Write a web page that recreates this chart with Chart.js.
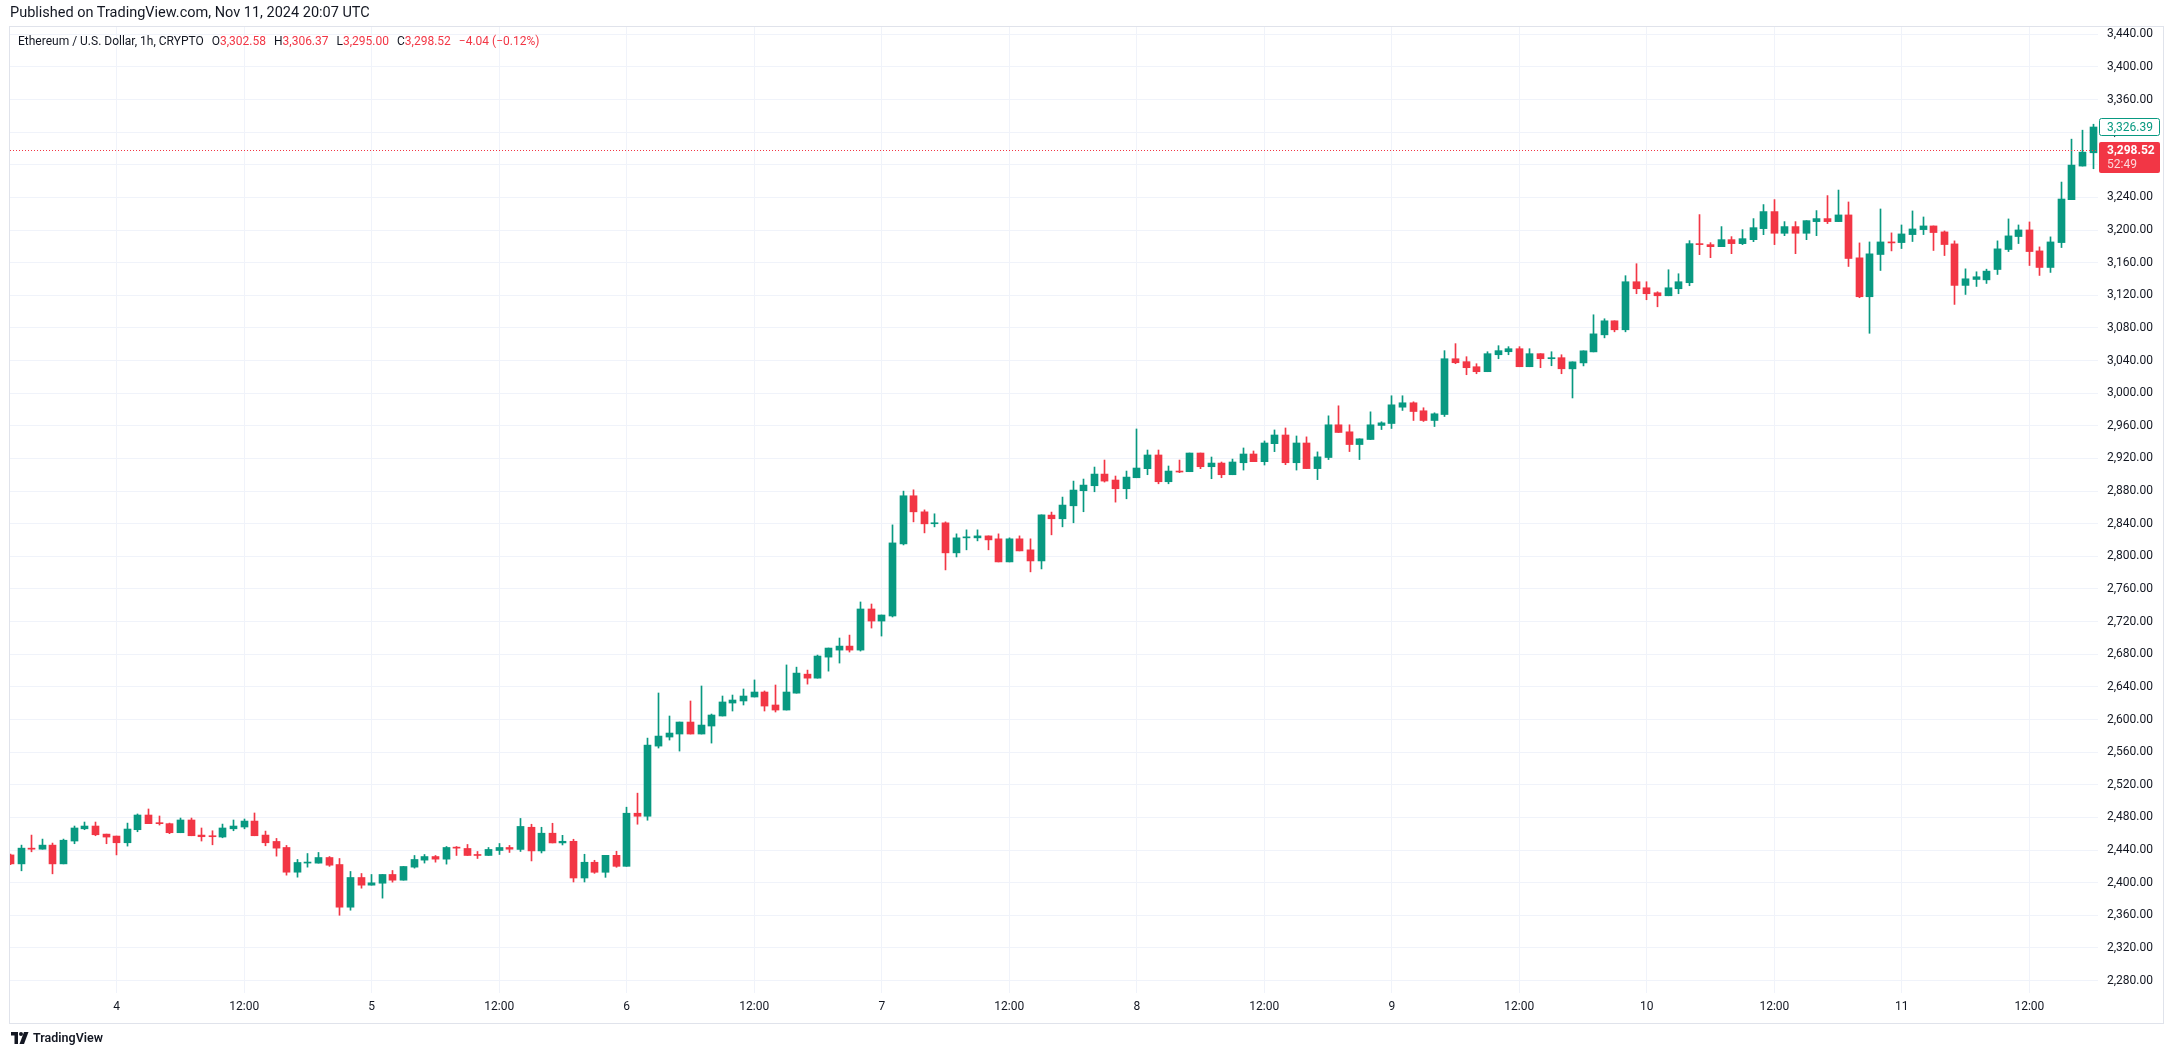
<!DOCTYPE html>
<html>
<head>
<meta charset="utf-8">
<script src="https://cdn.jsdelivr.net/npm/chart.js@4.4.1/dist/chart.umd.min.js"></script>
<style>
    body { margin: 0; background: #fff; font-family: Roboto, "Open Sans", sans-serif; color: #131722; }
    #wrap { position: relative; width: 2174px; height: 1057px; }
    #published { position: absolute; left: 10px; top: 4px; font-size: 14.5px; color: #131722; }
    #legend { position: absolute; left: 18px; top: 34px; font-size: 12px; color: #131722; white-space: pre; }
    #legend .v { color: #f23645; }
    #legend .g { margin-left: 8px; }
    #footer { position: absolute; left: 11px; top: 1030px; font-size: 12.5px; font-weight: 600; color: #131722; display: flex; align-items: center; }
    #footer svg { margin-right: 4px; }
</style>
</head>
<body>
<div id="wrap">
    <canvas id="chart" width="2174" height="1057"></canvas>
    <div id="published">Published on TradingView.com, Nov 11, 2024 20:07 UTC</div>
    <div id="legend">Ethereum / U.S. Dollar, 1h, CRYPTO<span class="g">O</span><span class="v">3,302.58</span><span class="g">H</span><span class="v">3,306.37</span><span class="g">L</span><span class="v">3,295.00</span><span class="g">C</span><span class="v">3,298.52</span><span class="g v">−4.04 (−0.12%)</span></div>
    <div id="footer">
        <svg width="18" height="12" viewBox="0 0 36 24"><path d="M0 0h14v24H7V7H0z" fill="#131722"/><circle cx="20" cy="4" r="4" fill="#131722"/><path d="M26 0h9l-9 24h-9z" fill="#131722"/></svg>TradingView
    </div>
</div>
<script>
    // ETH/USD 1h candles, first bar = Nov 3 14:00
    var firstDay = 3;
    var firstHour = 14;

    var opens = [2434, 2423, 2442.3, 2441, 2446, 2423, 2451, 2466, 2469.4, 2459.5,
        2457.1, 2448.9, 2464.9, 2482.9, 2473.5, 2472.3, 2461.2, 2476.8, 2458.3, 2457,
        2455.9, 2466, 2468.2, 2475.5, 2458.3, 2450.5, 2443.1, 2412.8, 2424, 2423.9,
        2430.8, 2422.2, 2369.9, 2406.3, 2396.9, 2399.3, 2410, 2403, 2419, 2427.6,
        2432, 2428.8, 2443.1, 2441.9, 2434.5, 2433.3, 2439.4, 2443.1, 2440.7, 2467.9,
        2438.9, 2460.6, 2448.7, 2450.7, 2405.7, 2425, 2412.7, 2433.5, 2420, 2485.1,
        2481.4, 2567.4, 2578.5, 2582.2, 2596.9, 2582.2, 2592, 2604.3, 2620.2, 2622.7,
        2627.6, 2633.7, 2617.8, 2611.6, 2632.3, 2655.6, 2650.7, 2676.5, 2685.1, 2690,
        2685.1, 2735.5, 2720.7, 2726.9, 2815.3, 2874.3, 2854.6, 2840, 2841.1, 2804.3,
        2822.7, 2822.7, 2825.1, 2821.5, 2793.2, 2821.5, 2808, 2794.4, 2850.6, 2846.1,
        2862, 2880.5, 2886.6, 2900.9, 2893.6, 2882.9, 2896.4, 2907.5, 2924.3, 2891.5,
        2904.6, 2903.8, 2926.7, 2909.9, 2914.4, 2900.1, 2914.8, 2925.5, 2916.1, 2938.2,
        2948.8, 2914.8, 2939, 2907.6, 2921.2, 2961.3, 2952.7, 2937.1, 2943.3, 2960.5,
        2962.9, 2982.9, 2988.3, 2978.5, 2966.6, 2973.9, 3042.3, 3038.7, 3032.5, 3026.4,
        3047.2, 3050.9, 3054.6, 3032.5, 3048.5, 3042.3, 3043.6, 3029.9, 3037.2, 3050.7,
        3071.6, 3088.8, 3077.8, 3136.7, 3129.3, 3123.2, 3119.5, 3128.1, 3135.5, 3183.4,
        3182.2, 3179.7, 3188.3, 3183.4, 3188.3, 3201.8, 3222.7, 3196.1, 3204.3, 3196.1,
        3210.4, 3214.1, 3210.4, 3218.6, 3166, 3118.3, 3170.1, 3185.5, 3184.7, 3194.5,
        3200.6, 3205.1, 3197.8, 3183.1, 3132.2, 3139.5, 3139, 3151.7, 3176.2, 3192.1,
        3200.2, 3174.5, 3154.2, 3184.7, 3237.3, 3278.5, 3294.8];

    var highs = [2435, 2446, 2458.3, 2453.4, 2448.5, 2453.4, 2469.4, 2474.3, 2474.3, 2459.5,
        2457.1, 2473, 2484.2, 2490.3, 2481.7, 2473, 2479.2, 2479.2, 2467, 2463.6,
        2471.8, 2476.8, 2478, 2485.4, 2463.2, 2454.2, 2445.6, 2428.4, 2435.7, 2437,
        2432, 2429.6, 2413.7, 2411.2, 2410, 2410, 2414.9, 2419.8, 2433.3, 2434.5,
        2433.3, 2444.3, 2444.3, 2446.8, 2438.2, 2443.1, 2448, 2445.6, 2478.7, 2471.6,
        2467.9, 2472.8, 2458, 2453.2, 2434.8, 2427.4, 2433.5, 2438.5, 2492.5, 2509.7,
        2577.2, 2632.5, 2604.3, 2596.9, 2622.7, 2641.1, 2606.7, 2628.8, 2630, 2637.4,
        2648.5, 2635, 2642.3, 2666.9, 2664.2, 2660.6, 2679, 2687.6, 2699.9, 2703.5,
        2744.1, 2741.6, 2728.1, 2838.6, 2880, 2881.6, 2857, 2852.2, 2842.3, 2827.6,
        2832.5, 2832.5, 2825.1, 2827.6, 2822.7, 2825.1, 2821.5, 2850.9, 2854.3, 2872.7,
        2892.3, 2894.8, 2909.5, 2918.1, 2898.5, 2904.6, 2956.2, 2930.4, 2930.4, 2910.8,
        2918.1, 2926.7, 2926.7, 2921.8, 2915.7, 2919.3, 2932.9, 2929.2, 2941.5, 2955,
        2957.4, 2947.6, 2946.5, 2928.1, 2972.3, 2984.6, 2961.3, 2944.1, 2977.2, 2965,
        2996.9, 2996.9, 2989.5, 2982.2, 2976, 3052.2, 3060.8, 3044.8, 3036.2, 3050.9,
        3058.3, 3057.1, 3057.1, 3054.6, 3048.5, 3050.9, 3047.2, 3038.5, 3052, 3096.2,
        3091.3, 3088.8, 3144.1, 3158.8, 3136.7, 3124.4, 3151.4, 3146.5, 3187.1, 3219,
        3184.6, 3204.3, 3192, 3200.6, 3214.1, 3231.3, 3237.4, 3210.4, 3210.4, 3211.6,
        3223.9, 3242.3, 3249.1, 3234.5, 3184.3, 3185.5, 3225.9, 3196.6, 3206.3, 3223.5,
        3216.1, 3205.1, 3199, 3186.8, 3152.5, 3148.9, 3152.1, 3186.8, 3213.7, 3206.3,
        3210, 3179.4, 3191.7, 3258.9, 3311.5, 3322.5, 3329.8];

    var lows = [2422, 2414.5, 2437.8, 2441, 2410.8, 2423, 2447.7, 2464.9, 2457.5, 2447.7,
        2434, 2444.8, 2462.4, 2472.3, 2470.6, 2460, 2461.2, 2457.5, 2451, 2446.4,
        2455, 2463.6, 2466, 2457.5, 2445.2, 2432.5, 2409.2, 2406.7, 2419, 2423.9,
        2420, 2360, 2366.2, 2393.2, 2396.9, 2381, 2400.6, 2403, 2417.8, 2424,
        2425.1, 2422.7, 2433.3, 2433.3, 2429.6, 2433.3, 2434.5, 2437, 2438.2, 2426.6,
        2436.4, 2448.7, 2446.2, 2400.8, 2400.8, 2411.4, 2406.5, 2418.8, 2420, 2471.6,
        2476.5, 2565, 2574.8, 2561.3, 2582.2, 2582.2, 2571.1, 2604.3, 2610.4, 2617.8,
        2627.6, 2610.4, 2609.2, 2611.6, 2632.3, 2643.4, 2650.7, 2659.3, 2669.2, 2682.7,
        2683.9, 2712.1, 2702.3, 2725.7, 2814, 2842.3, 2828.8, 2836.2, 2783.4, 2799.3,
        2808, 2819, 2808, 2793.2, 2793.2, 2806.7, 2781, 2784.6, 2826.4, 2836.2,
        2841.2, 2854.7, 2879.2, 2891.1, 2866.5, 2870.6, 2896.4, 2900.1, 2889, 2889,
        2902.6, 2903.8, 2907.5, 2895.2, 2896.4, 2900.1, 2905.8, 2916.1, 2912, 2928.4,
        2912.4, 2905.8, 2907.5, 2894.1, 2918.7, 2951.9, 2928.5, 2918.7, 2943.3, 2955.5,
        2956.8, 2978.9, 2966.6, 2965.4, 2959.2, 2971.5, 3036.2, 3022.7, 3023.9, 3026.4,
        3042.3, 3047.2, 3032.5, 3032.5, 3031.3, 3033.7, 3023.9, 2994.2, 3033.5, 3050.7,
        3067.9, 3075.3, 3075.3, 3122, 3114.6, 3106, 3119.5, 3122, 3131.8, 3169.9,
        3166.2, 3179.7, 3171.1, 3182.2, 3185.8, 3194.4, 3182.2, 3193.2, 3171.1, 3188.3,
        3193.2, 3208, 3210.4, 3155.4, 3117.1, 3073.5, 3150.5, 3174.5, 3177.4, 3186,
        3194.5, 3175, 3168.8, 3108.9, 3121.1, 3130.9, 3134.6, 3145.6, 3173.7, 3183.5,
        3156.6, 3144.4, 3148.1, 3178.6, 3237.3, 3278.5, 3275.2];

    var closes = [2423, 2442.3, 2441, 2446, 2423, 2452, 2467, 2469.4, 2458.7, 2455.9,
        2448.9, 2465.7, 2482.9, 2472.3, 2472.3, 2461.2, 2476.8, 2457.5, 2456.3, 2456.3,
        2467, 2469.4, 2475.5, 2457.5, 2448.9, 2442.3, 2412.8, 2424.7, 2424.7, 2430.8,
        2421.4, 2369.9, 2406.3, 2396.9, 2399.8, 2410, 2403, 2419.8, 2428.4, 2432,
        2428.8, 2443.1, 2442.3, 2433.3, 2433.3, 2440.7, 2443.1, 2441, 2468.9, 2438.9,
        2460.6, 2448.7, 2450.7, 2405.7, 2425, 2412.7, 2433.5, 2420, 2485.1, 2481.4,
        2568.6, 2579.7, 2583.4, 2596.9, 2582.2, 2593.2, 2605.5, 2621.5, 2623.9, 2628.8,
        2633.7, 2616.5, 2611.6, 2633.7, 2656.9, 2650.7, 2677.8, 2687.6, 2690, 2685.1,
        2735.5, 2720.7, 2728.1, 2816.5, 2874.3, 2854.6, 2839.9, 2841.1, 2804.3, 2822.7,
        2823.9, 2825.1, 2820.2, 2793.2, 2821.5, 2806.7, 2794.4, 2850.9, 2846.1, 2862.9,
        2881.3, 2887.4, 2900.9, 2892.3, 2882.9, 2897.2, 2908.3, 2924.3, 2891.5, 2904.6,
        2903.4, 2926.7, 2909.9, 2914.4, 2900.1, 2915.7, 2925.5, 2916.1, 2939, 2948.8,
        2914.8, 2939, 2907.6, 2922, 2961.3, 2951.9, 2937.1, 2944.1, 2961.3, 2963.7,
        2985.8, 2988.3, 2977.6, 2966.6, 2974.8, 3042.3, 3037.4, 3031.3, 3026.4, 3048.5,
        3052.2, 3054.6, 3032.5, 3048.5, 3042.3, 3043.6, 3030, 3038.5, 3052, 3072.8,
        3088.8, 3077.8, 3136.7, 3128.1, 3122, 3119.5, 3129.3, 3136.7, 3183.4, 3182.2,
        3179.7, 3188.3, 3183.4, 3189.5, 3203, 3222.7, 3196.1, 3204.3, 3196.1, 3211.6,
        3214.1, 3210.4, 3218.6, 3165.2, 3118.3, 3170.9, 3185.5, 3184.3, 3195.3, 3201.4,
        3205.1, 3197, 3182.3, 3132.2, 3140.3, 3142.8, 3149.7, 3177, 3192.9, 3200.2,
        3173.7, 3154.2, 3185.5, 3238.1, 3279.7, 3295.6, 3326.4];

    var priceTicks = [];
    for (var p = 2280; p <= 3440; p += 40) {
        priceTicks.push(p);
    }

    var lastBarClose = 3326.39;
    var livePrice = 3298.52;
    var liveCountdown = '52:49';

    var upColor = '#089981';
    var downColor = '#f23645';
    var gridColor = '#f0f3fa';
    var borderColor = '#e0e3eb';

    // time axis ticks every 12 hours: day number at midnight, "12:00" at noon
    var timeTicks = [];
    var timeLabels = [];
    for (var i = 0; i < closes.length; i++) {
        var hour = (firstHour + i) % 24;
        if (hour === 0) {
            timeTicks.push(i);
            timeLabels.push(String(firstDay + Math.floor((firstHour + i) / 24)));
        } else if (hour === 12) {
            timeTicks.push(i);
            timeLabels.push('12:00');
        }
    }

    var candleColors = closes.map(function(c, i) {
        return c >= opens[i] ? upColor : downColor;
    });

    var wickData = closes.map(function(c, i) {
        return {x: i, y: [lows[i], highs[i]]};
    });

    var bodyData = closes.map(function(c, i) {
        return {x: i, y: [opens[i], c]};
    });

    function formatPrice(v) {
        return v.toLocaleString('en-US', {minimumFractionDigits: 2, maximumFractionDigits: 2});
    }

    // snap bars to pixel centres so wicks/bodies stay crisp
    var pixelSnap = {
        id: 'pixelSnap',
        beforeDatasetsDraw: function(chart) {
            chart.getSortedVisibleDatasetMetas().forEach(function(meta) {
                meta.data.forEach(function(el) {
                    el.x = Math.floor(el.x) + 0.5;
                });
            });
        }
    };

    var paneDecor = {
        id: 'paneDecor',
        afterDraw: function(chart) {
            var ctx = chart.ctx;
            var area = chart.chartArea;
            var yScale = chart.scales.y;
            ctx.save();

            // live price dotted line
            var yLive = Math.round(yScale.getPixelForValue(livePrice)) + 0.5;
            ctx.strokeStyle = downColor;
            ctx.lineWidth = 1;
            ctx.setLineDash([1, 2]);
            ctx.beginPath();
            ctx.moveTo(area.left, yLive);
            ctx.lineTo(area.right, yLive);
            ctx.stroke();
            ctx.setLineDash([]);

            var boxLeft = area.right + 1.5;
            var boxWidth = 60;
            ctx.font = '12px Roboto';
            ctx.textBaseline = 'middle';
            ctx.textAlign = 'left';

            // last bar close label
            var yClose = Math.round(yScale.getPixelForValue(lastBarClose));
            ctx.fillStyle = '#fff';
            ctx.strokeStyle = upColor;
            ctx.beginPath();
            ctx.roundRect(boxLeft, yClose - 8.5, boxWidth, 17, 2);
            ctx.fill();
            ctx.stroke();
            ctx.fillStyle = upColor;
            ctx.fillText(formatPrice(lastBarClose), area.right + 9, yClose + 0.5);

            // live price label with countdown
            ctx.fillStyle = downColor;
            ctx.beginPath();
            ctx.roundRect(boxLeft - 0.5, yLive - 8.5, boxWidth + 1, 31, 2);
            ctx.fill();
            ctx.fillStyle = '#fff';
            ctx.font = 'bold 12px Roboto';
            ctx.fillText(formatPrice(livePrice), area.right + 9, yLive + 0.5);
            ctx.fillStyle = 'rgba(255,255,255,0.8)';
            ctx.font = '12px Roboto';
            ctx.fillText(liveCountdown, area.right + 9, yLive + 14);

            // pane frame
            ctx.strokeStyle = borderColor;
            ctx.lineWidth = 1;
            ctx.strokeRect(9.5, 26.5, 2154, 997);
            ctx.restore();
        }
    };

    var ctx = document.getElementById('chart');

    new Chart(ctx, {
        type: 'bar',
        data: {
            datasets: [{
                label: 'wick',
                data: wickData,
                backgroundColor: candleColors,
                barThickness: 1,
                grouped: false,
                borderWidth: 0,
                order: 2
            }, {
                label: 'body',
                data: bodyData,
                backgroundColor: candleColors,
                barThickness: 7,
                grouped: false,
                borderWidth: 0,
                minBarLength: 1,
                order: 1
            }]
        },
        options: {
            responsive: false,
            animation: false,
            events: [],
            layout: {
                padding: {top: 27, left: 10, right: 10, bottom: 34}
            },
            plugins: {
                legend: {display: false},
                tooltip: {enabled: false}
            },
            scales: {
                x: {
                    type: 'linear',
                    min: -0.04,
                    max: 196.46,
                    offset: false,
                    border: {display: false},
                    grid: {color: gridColor, drawTicks: false, offset: false},
                    afterBuildTicks: function(scale) {
                        scale.ticks = timeTicks.map(function(v) { return {value: v}; });
                    },
                    afterFit: function(scale) {
                        scale.height = 30;
                    },
                    ticks: {
                        autoSkip: false,
                        maxRotation: 0,
                        padding: 7,
                        color: '#131722',
                        font: {family: 'Roboto', size: 12},
                        callback: function(value) {
                            return timeLabels[timeTicks.indexOf(value)];
                        }
                    }
                },
                y: {
                    position: 'right',
                    min: 2264.7,
                    max: 3449,
                    border: {display: false},
                    grid: {color: gridColor, drawTicks: false},
                    afterBuildTicks: function(scale) {
                        scale.ticks = priceTicks.map(function(v) { return {value: v}; });
                    },
                    afterFit: function(scale) {
                        scale.width = 66;
                    },
                    ticks: {
                        autoSkip: false,
                        padding: 9,
                        color: '#131722',
                        font: {family: 'Roboto', size: 12},
                        callback: function(value) {
                            return formatPrice(value);
                        }
                    }
                }
            }
        },
        plugins: [pixelSnap, paneDecor]
    });
</script>
</body>
</html>
